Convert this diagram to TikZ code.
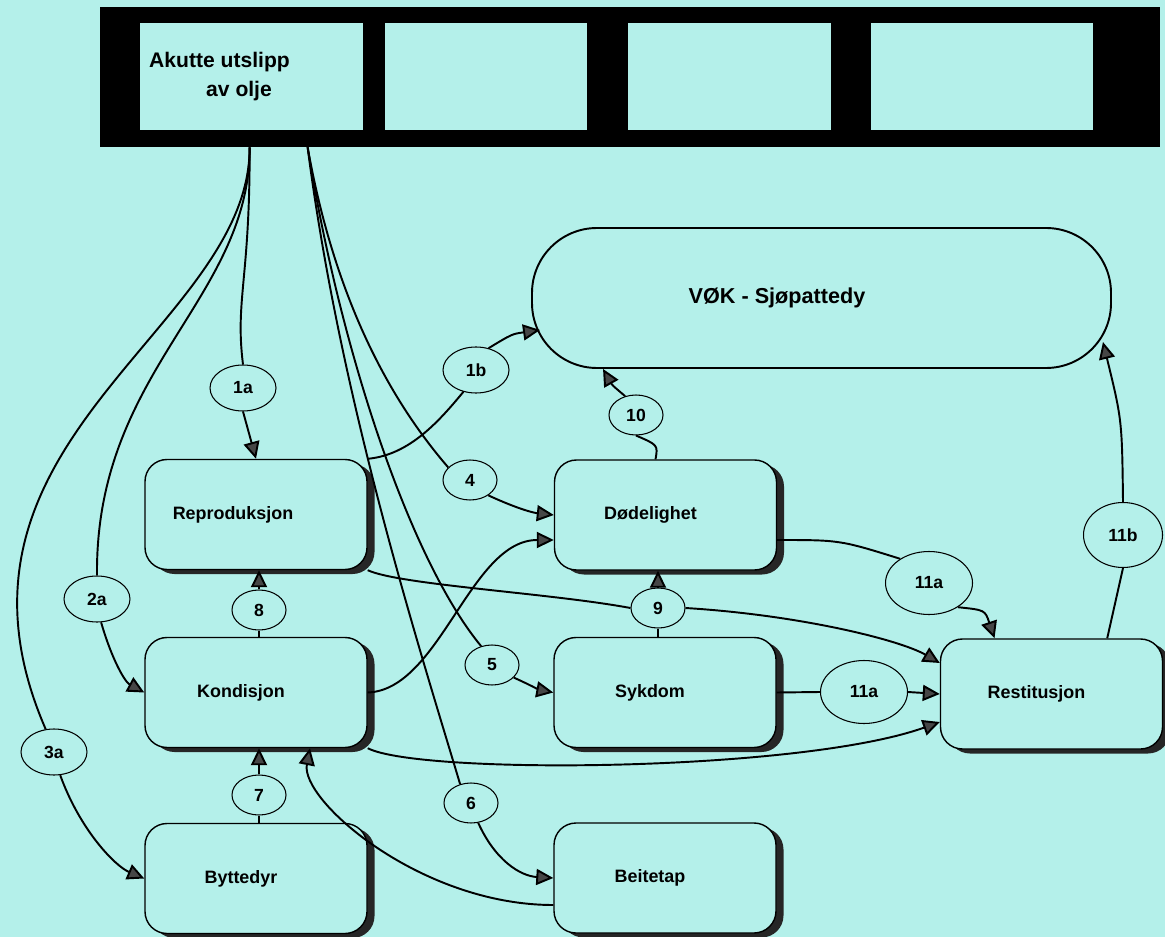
\documentclass[tikz,border=0pt]{standalone}
\usepackage{fontspec}
\setmainfont{Liberation Sans}
\usetikzlibrary{arrows.meta, positioning, calc, shapes.geometric, shadows}
\definecolor{scanbg}{RGB}{180,240,234}
\definecolor{tipgray}{RGB}{70,70,70}

\begin{document}
\begin{tikzpicture}[
    x=0.2mm, y=-0.2mm,
    >={Triangle[length=3.4mm, width=3.2mm, fill=tipgray]},
    statebox/.style={draw, line width=0.8pt, rounded corners=4.4mm, fill=scanbg, minimum width=4.44cm, minimum height=2.2cm,
        drop shadow={shadow xshift=1.5mm, shadow yshift=-0.9mm, fill=black!85, opacity=1}},
    boxlabel/.style={xshift=-3mm, font=\bfseries\fontsize{10.2}{12}\selectfont},
    titlelabel/.style={xshift=-6.4mm, align=left, font=\bfseries\fontsize{12}{16}\selectfont},
    numbox/.style={ellipse, draw, line width=0.6pt, fill=scanbg, inner sep=0pt, minimum width=1.08cm, minimum height=0.8cm,
        font=\bfseries\fontsize{10}{12}\selectfont},
    bignum/.style={numbox, minimum width=1.32cm, minimum height=0.92cm},
    widenum/.style={numbox, minimum width=1.74cm, minimum height=1.26cm},
    panel/.style={fill=scanbg, inner sep=0pt, minimum height=2.14cm},
    link/.style={line width=1.1pt},
]
    \useasboundingbox (0,0) rectangle (1165,937);
    \fill[scanbg] (0,0) rectangle (1165,937);

    % top bar with the four panels
    \node[fill=black, inner sep=0pt, minimum width=21.2cm, minimum height=2.8cm] (bar) at (630,77) {};
    \node[panel, minimum width=4.46cm,
        label={[titlelabel]center:{Akutte utslipp\\\hspace*{11.4mm}av olje}}] (akutte) at (251.5,76.5) {};
    \node[panel, minimum width=4.04cm] (blankA) at (486,76.5) {};
    \node[panel, minimum width=4.06cm] (blankB) at (729.5,76.5) {};
    \node[panel, minimum width=4.44cm] (blankC) at (982,76.5) {};
    \coordinate (srcA) at ($(bar.south west)+(150,0)$);
    \coordinate (srcB) at ($(bar.south west)+(208,0)$);

    % VOK
    \node[draw, line width=1.1pt, rounded corners=13mm, minimum width=11.58cm, minimum height=2.8cm,
        label={[boxlabel, xshift=-5.9mm, font=\bfseries\fontsize{12.3}{14}\selectfont]center:VØK - Sjøpattedy}] (vok) at (821.5,298) {};

    % boxes
    \node[statebox, label={[boxlabel, xshift=-1.6mm]center:Reproduksjon}] (repro) at (256,514.5) {};
    \node[statebox, label={[boxlabel]center:Kondisjon}] (kond) at (256,692.5) {};
    \node[statebox, label={[boxlabel]center:Byttedyr}] (bytte) at (256,878.5) {};
    \node[statebox, label={[boxlabel]center:Dødelighet}] (dod) at (665.5,515) {};
    \node[statebox, label={[boxlabel]center:Sykdom}] (syk) at (665,692.5) {};
    \node[statebox, label={[boxlabel]center:Beitetap}] (beite) at (665,878) {};
    \node[statebox, label={[boxlabel]center:Restitusjon}] (rest) at (1051.5,694) {};

    % numbered ellipses
    \node[bignum] (n1a) at (243,388) {1a};
    \node[bignum] (n1b) at (476,370) {1b};
    \node[bignum] (n2a) at (97,599) {2a};
    \node[bignum] (n3a) at (54,752) {3a};
    \node[numbox] (n4) at (470,480) {4};
    \node[numbox] (n5) at (492,665) {5};
    \node[numbox] (n6) at (471,803) {6};
    \node[numbox] (n7) at (259,795) {7};
    \node[numbox] (n8) at (259,610) {8};
    \node[numbox] (n9) at (658,608) {9};
    \node[numbox] (n10) at (636,415) {10};
    \node[widenum] (n11au) at (929,583) {11a};
    \node[widenum] (n11al) at (864,692) {11a};
    \node[numbox, minimum width=1.58cm, minimum height=1.3cm] (n11b) at (1123,535) {11b};

    % from the spill
    \draw[link] (srcA) .. controls (250,330) and (-80,440) .. (n3a.110);
    \draw[link] (srcA) .. controls (250,300) and (95,370) .. (n2a.north);
    \draw[link] (srcA) .. controls (250,280) and (235,300) .. (n1a.north);
    \draw[link] (srcB) .. controls (335,300) and (390,400) .. (n4.150);
    \draw[link] (srcB) .. controls (340,350) and (410,560) .. (n5.120);
    \draw[link] (srcB) .. controls (340,400) and (420,650) .. (n6.120);
    \draw[link,->] (n1a.south) -- (repro.north);
    \draw[link,->] (n2a.-80) .. controls (112,660) and (125,682) .. (kond.west);
    \draw[link,->] (n3a.-75) .. controls (80,830) and (115,866) .. (bytte.west);
    \draw[link,->] (n4.-40) .. controls (520,510) and (535,513) .. (dod.west);
    \draw[link,->] (n5.-30) .. controls (530,685) and (540,690) .. (syk.west);
    \draw[link,->] (n6.-70) .. controls (495,860) and (520,876) .. (beite.west);

    % left column
    \draw[link] (n8 |- kond.north) -- (n8.south);
    \draw[link,->] (n8.north) -- (n8 |- repro.south);
    \draw[link] (n7 |- bytte.north) -- (n7.south);
    \draw[link,->] (n7.north) -- (n7 |- kond.south);
    \draw[link,->] ($(beite.west)+(0,27)$) .. controls (420,905) and (300,800) .. ($(kond.south)+(54,0)$);
    \draw[link,->] (kond.east) .. controls (440,690) and (470,540) .. ($(dod.west)+(0,25)$);
    \draw[link,->] (kond.south east) .. controls (420,775) and (800,772) .. ($(rest.west)+(0,28)$);
    \draw[link] (repro.north east) .. controls (410,455) and (440,420) .. (n1b.-120);
    \draw[link,->] (n1b.60) .. controls (512,334) .. ($(vok.west)+(9,32)$);
    \draw[link] (repro.south east) .. controls (400,585) and (550,593) .. (n9.west);
    \draw[link,->] (n9.east) .. controls (800,615) and (900,640) .. ($(rest.west)+(0,-31)$);

    % middle and right
    \draw[link] (n9 |- syk.north) -- (n9.south);
    \draw[link,->] (n9.north) -- (n9 |- dod.south);
    \draw[link] ($(dod.north)+(-10,0)$) .. controls (658,445) .. (n10.south);
    \draw[link,->] (n10.120) .. controls (612,385) .. ($(vok.south west)+(72,0)$);
    \draw[link] ($(dod.east)+(0,25)$) .. controls (840,540) .. (n11au.140);
    \draw[link,->] (n11au.-40) .. controls (985,610) .. ($(rest.north)+(-57,0)$);
    \draw[link] (syk.east) -- (n11al.west);
    \draw[link,->] (n11al.east) -- (rest.west);
    \draw[link] ($(rest.north east)+(-56,0)$) -- (n11b.south);
    \draw[link,->] (n11b.north) .. controls (1122,420) .. ($(vok.east)+(-9,44)$);
\end{tikzpicture}
\end{document}
